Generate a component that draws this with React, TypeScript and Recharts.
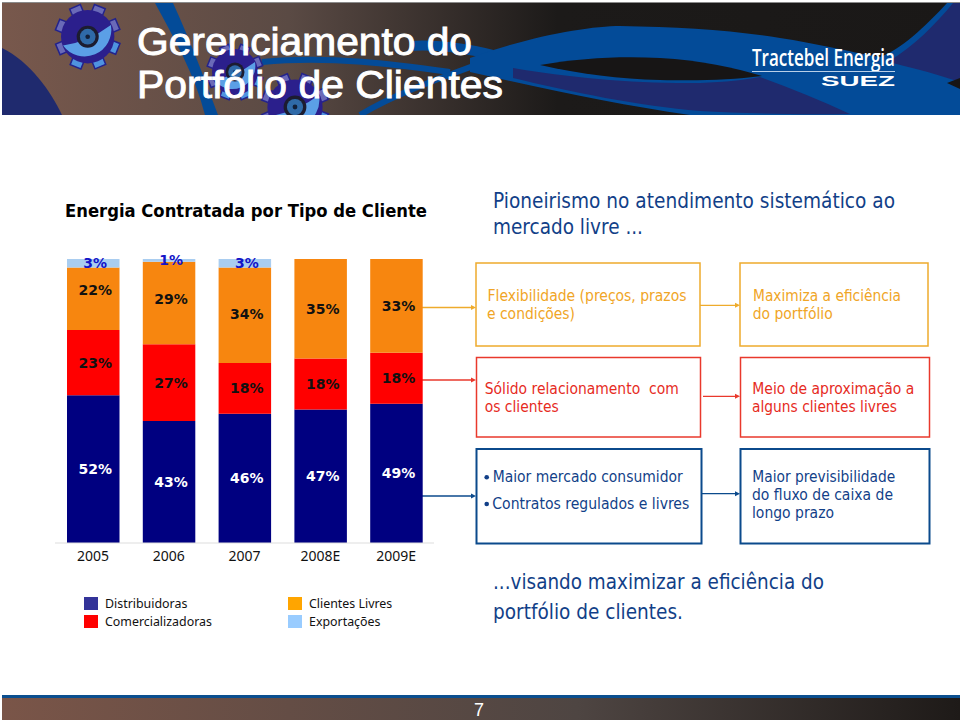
import { Bar, BarChart, LabelList, Legend, XAxis, YAxis } from 'recharts';

const years = ['2005', '2006', '2007', '2008E', '2009E'];
const distribuidoras = [52, 43, 46, 47, 49];
const comercializadoras = [23, 27, 18, 18, 18];
const clientesLivres = [22, 29, 34, 35, 33];
const exportacoes = [3, 1, 3, 0, 0];

const chartData = years.map((year, i) => ({
    year,
    distribuidoras: distribuidoras[i],
    comercializadoras: comercializadoras[i],
    clientesLivres: clientesLivres[i],
    exportacoes: exportacoes[i],
}));

// legend swatches are a little different from the bars in the slide
const legendColors: Record<string, string> = {
    Distribuidoras: '#333399',
    Comercializadoras: '#ff0000',
    'Clientes Livres': '#ffa500',
    'Exportações': '#99ccff',
};

const ORANGE = '#eeab2c';
const RED = '#e9392c';
const BLUE = '#0b4a8c';
const TEXT_BLUE = '#123f88';
const FONT = "'DejaVu Sans', sans-serif";

// [text, x, baseline, width, size, color, weight]
type Line = [string, number, number, number, number, string, number?];
const textLines: Line[] = [
    ['Energia Contratada por Tipo de Cliente', 65, 217, 362, 18, '#000000', 700],
    ['Pioneirismo no atendimento sistemático ao', 493, 208, 402, 21, TEXT_BLUE],
    ['mercado livre ...', 493, 234, 150, 21, TEXT_BLUE],
    ['Flexibilidade (preços, prazos', 487.5, 301, 199, 16, '#f0a526'],
    ['e condições)', 487, 318.5, 88, 16, '#f0a526'],
    ['Maximiza a eficiência', 753, 301, 148, 16, '#f0a526'],
    ['do portfólio', 752.7, 318.5, 80, 16, '#f0a526'],
    ['Sólido relacionamento  com', 484.7, 394, 194, 16, '#e62b1e'],
    ['os clientes', 484.7, 411.7, 74, 16, '#e62b1e'],
    ['Meio de aproximação a', 752.3, 394, 162, 16, '#e62b1e'],
    ['alguns clientes livres', 752, 411.7, 145, 16, '#e62b1e'],
    ['Maior mercado consumidor', 492.7, 482.3, 190, 16, TEXT_BLUE],
    ['Contratos regulados e livres', 492.3, 509.3, 197, 16, TEXT_BLUE],
    ['Maior previsibilidade', 752.3, 482.3, 143, 16, TEXT_BLUE],
    ['do fluxo de caixa de', 752, 500, 141, 16, TEXT_BLUE],
    ['longo prazo', 752, 517.7, 82, 16, TEXT_BLUE],
    ['...visando maximizar a eficiência do', 493, 589, 331, 22, TEXT_BLUE],
    ['portfólio de clientes.', 493, 619, 190, 22, TEXT_BLUE],
];

const boxes = [
    { x: 476, y: 263, w: 224, h: 83, color: ORANGE, sw: 1.5 },
    { x: 740, y: 263, w: 188, h: 83, color: ORANGE, sw: 1.5 },
    { x: 476.5, y: 357.5, w: 224, h: 79.5, color: RED, sw: 1.5 },
    { x: 740.5, y: 357.5, w: 189, h: 79.5, color: RED, sw: 1.5 },
    { x: 476.5, y: 449, w: 225, h: 94.5, color: BLUE, sw: 2 },
    { x: 740.5, y: 449, w: 189, h: 94.5, color: BLUE, sw: 2 },
];

const arrows = [
    { x1: 422, x2: 476, y: 307.5, color: ORANGE },
    { x1: 422, x2: 476, y: 380, color: RED },
    { x1: 422, x2: 476, y: 496, color: BLUE },
    { x1: 700, x2: 740, y: 305.3, color: ORANGE },
    { x1: 703, x2: 740, y: 396.3, color: RED },
    { x1: 702, x2: 740, y: 493.7, color: BLUE },
];

const Gear = ({ cx, cy, r }: { cx: number; cy: number; r: number }) => (
    <g>
        {[0, 45, 90, 135, 180, 225, 270, 315].map((a) => (
            <rect
                key={a}
                x={cx - r * 0.2}
                y={cy - r * 1.12}
                width={r * 0.4}
                height={r * 0.3}
                fill={a > 45 && a < 225 ? '#4f93e0' : '#6a6ab8'}
                stroke="#23238c"
                strokeWidth={1.5}
                transform={`rotate(${a + 22} ${cx} ${cy})`}
            />
        ))}
        <circle cx={cx} cy={cy} r={r * 0.92} fill="#2b1f8c" />
        <path
            d={`M ${cx - r * 0.85} ${cy + r * 0.3} Q ${cx} ${cy + r * 0.2} ${cx + r * 0.8} ${cy - r * 0.4} A ${r * 0.92} ${r * 0.92} 0 0 1 ${cx - r * 0.85} ${cy + r * 0.3} Z`}
            fill="#5b9fe6"
        />
        <circle cx={cx} cy={cy} r={r * 0.38} fill="#1c1c30" />
        <circle cx={cx} cy={cy} r={r * 0.27} fill="#2f6aa8" />
        <circle cx={cx} cy={cy} r={r * 0.08} fill="#12203a" />
    </g>
);

const Slide = () => (
    <svg width={960} height={720} style={{ position: 'absolute', left: 0, top: 0 }}>
        <defs>
            <linearGradient id="bannerBg" x1="0" x2="1" y1="0" y2="0">
                <stop offset="0" stopColor="#78584c" />
                <stop offset="0.3" stopColor="#5a4a44" />
                <stop offset="0.58" stopColor="#1c1a19" />
                <stop offset="1" stopColor="#1a1817" />
            </linearGradient>
            <linearGradient id="footerBg" x1="0" x2="1" y1="0" y2="0">
                <stop offset="0" stopColor="#7a5548" />
                <stop offset="0.6" stopColor="#4e4542" />
                <stop offset="1" stopColor="#1e1a18" />
            </linearGradient>
            <clipPath id="bannerClip">
                <rect x={2} y={3} width={958} height={112} />
            </clipPath>
        </defs>

        {/* banner */}
        <g clipPath="url(#bannerClip)">
            <rect x={2} y={3} width={958} height={112} fill="url(#bannerBg)" />
            <path d="M 2 48 C 30 62 50 90 62 115 L 2 115 Z" fill="#1f2a6e" />
            <path d="M 155 3 L 173 3 C 190 40 205 80 218 115 L 205 115 C 195 75 175 40 155 3 Z" fill="#034b98" />
            <path d="M 262 62 C 330 55 400 65 450 72" fill="none" stroke="#034b98" strokeWidth={6} />
            <path d="M 360 115 C 400 90 460 72 510 52" fill="none" stroke="#034b98" strokeWidth={6} />
            <path d="M 410 46 C 440 44 480 50 510 60" fill="none" stroke="#034b98" strokeWidth={10} />
            <path
                d="M 470 58 C 530 36 590 26 620 26 C 680 27 730 30 780 38 C 815 43 850 52 880 57 C 900 50 925 27 947 3 L 960 3 L 960 115 L 690 115 C 620 105 550 90 470 72 Z"
                fill="#034b98"
            />
            <path d="M 953 3 L 960 3 L 960 82 C 930 72 905 66 888 62 C 915 45 935 25 953 3 Z" fill="#1f2a6e" />
            <path d="M 947 83 L 960 78 L 960 89 Z" fill="#171515" />
            <path d="M 540 65 C 580 58 620 56 660 58 C 700 60 735 68 762 76 C 730 80 700 81 660 80 C 620 79 580 74 540 65 Z" fill="#171515" />
            <path d="M 513 68 C 570 78 640 84 700 83 C 725 82 745 80 760 77 C 790 88 820 100 850 114 C 790 115 740 113 700 111 C 640 106 570 92 513 78 Z" fill="#1f2a6e" />
            <Gear cx={87.7} cy={36.7} r={29} />
            <Gear cx={235} cy={72} r={25} />
            <Gear cx={295} cy={107} r={30} />
        </g>
        <rect x={2} y={2} width={958} height={1} fill="#8a8a8a" />
        <text x={137} y={55} fontFamily="'Liberation Sans', Arial, sans-serif" fontSize={38} fill="#fff" stroke="#fff" strokeWidth={0.9} textLength={335} lengthAdjust="spacingAndGlyphs">
            Gerenciamento do
        </text>
        <text x={137} y={98} fontFamily="'Liberation Sans', Arial, sans-serif" fontSize={38} fill="#fff" stroke="#fff" strokeWidth={0.9} textLength={366} lengthAdjust="spacingAndGlyphs">
            Portfólio de Clientes
        </text>
        <text x={752} y={66} fontFamily="'Open Sans', sans-serif" fontSize={23} fontWeight={600} fill="#fff" textLength={143} lengthAdjust="spacingAndGlyphs">
            Tractebel Energia
        </text>
        <rect x={752} y={71} width={143} height={1} fill="#b8cfe8" />
        <text x={821} y={86} fontFamily="'Liberation Sans', sans-serif" fontSize={14} fontWeight={700} fill="#fff" textLength={74} lengthAdjust="spacingAndGlyphs">
            SUEZ
        </text>

        {/* footer */}
        <rect x={2} y={695} width={958} height={3} fill="#0b4f8f" />
        <rect x={2} y={698} width={958} height={22} fill="url(#footerBg)" />
        <text x={479} y={716} textAnchor="middle" fontFamily="'Liberation Sans', sans-serif" fontSize={18} fill="#fff">7</text>

        {/* boxes and connectors */}
        {boxes.map((b, i) => (
            <rect key={i} x={b.x} y={b.y} width={b.w} height={b.h} fill="none" stroke={b.color} strokeWidth={b.sw} />
        ))}
        {arrows.map((a, i) => (
            <g key={i}>
                <line x1={a.x1} x2={a.x2 - 3} y1={a.y} y2={a.y} stroke={a.color} strokeWidth={1.3} />
                <path d={`M ${a.x2 - 5} ${a.y - 2.5} L ${a.x2} ${a.y} L ${a.x2 - 5} ${a.y + 2.5} Z`} fill={a.color} />
            </g>
        ))}
        <circle cx={486.7} cy={477.3} r={2.3} fill={TEXT_BLUE} />
        <circle cx={486.7} cy={504} r={2.3} fill={TEXT_BLUE} />

        {textLines.map(([t, x, y, w, size, color, weight]) => (
            <text key={t} x={x} y={y} fontFamily={FONT} fontSize={size} fontWeight={weight ?? 400} fill={color} textLength={w} lengthAdjust="spacingAndGlyphs" xmlSpace="preserve">
                {t}
            </text>
        ))}
    </svg>
);

// the two top orange labels sit above the middle of their segment in the slide
const orangeNudge = [-9, -4, -1, 0, 0];

const percentLabel = (color: string, nudge?: number[]) => (props: any) => {
    const { x, y, width, height, value, index } = props;
    if (!value) return null;
    return (
        <text
            x={x + width / 2 + 2}
            y={y + height / 2 + (nudge ? nudge[index] : 0)}
            textAnchor="middle"
            dominantBaseline="central"
            fontFamily={FONT}
            fontSize={14}
            fontWeight={700}
            fill={color}
        >
            {value}%
        </text>
    );
};

const legendContent = ({ payload }: any) => (
    <div style={{ display: 'grid', gridAutoFlow: 'column', gridTemplateRows: '18px 18px', gridTemplateColumns: '204px 120px' }}>
        {(payload || []).map((p: any) => (
            <div key={p.value} style={{ display: 'flex', alignItems: 'center', height: 18, fontFamily: "'Noto Sans', sans-serif", fontSize: 12.4, color: '#111' }}>
                <span style={{ display: 'inline-block', width: 14, height: 13, marginRight: 7, background: legendColors[p.value] }} />
                {p.value}
            </div>
        ))}
    </div>
);

const App = () => (
    <div style={{ position: 'absolute', left: 0, top: 0, width: 960, height: 720, background: '#fff', overflow: 'hidden' }}>
        <Slide />
        <div style={{ position: 'absolute', left: 0, top: 0 }}>
            <BarChart
                width={960}
                height={720}
                data={chartData}
                stackOffset="expand"
                barSize={52.5}
                margin={{ top: 259, right: 526, bottom: 147, left: 55 }}
            >
                <XAxis
                    dataKey="year"
                    height={30}
                    tickLine={false}
                    axisLine={{ stroke: '#dddddd' }}
                    tickMargin={2}
                    interval={0}
                    tick={{ fontFamily: "'Noto Sans', sans-serif", fontSize: 14, fill: '#111' }}
                />
                <YAxis hide domain={[0, 1]} />
                <Legend
                    content={legendContent}
                    layout="horizontal"
                    align="center"
                    verticalAlign="middle"
                    itemSorter={null}
                    wrapperStyle={{ left: 84, top: 594, width: 330 }}
                />
                <Bar dataKey="distribuidoras" name="Distribuidoras" stackId="a" fill="#000080" isAnimationActive={false}>
                    <LabelList dataKey="distribuidoras" content={percentLabel('#ffffff')} />
                </Bar>
                <Bar dataKey="comercializadoras" name="Comercializadoras" stackId="a" fill="#ff0000" isAnimationActive={false}>
                    <LabelList dataKey="comercializadoras" content={percentLabel('#111111')} />
                </Bar>
                <Bar dataKey="clientesLivres" name="Clientes Livres" stackId="a" fill="#f7860f" isAnimationActive={false}>
                    <LabelList dataKey="clientesLivres" content={percentLabel('#111111', orangeNudge)} />
                </Bar>
                <Bar dataKey="exportacoes" name="Exportações" stackId="a" fill="#a9cdf0" isAnimationActive={false}>
                    <LabelList dataKey="exportacoes" content={percentLabel('#1414c8')} />
                </Bar>
            </BarChart>
        </div>
    </div>
);

export default App;
